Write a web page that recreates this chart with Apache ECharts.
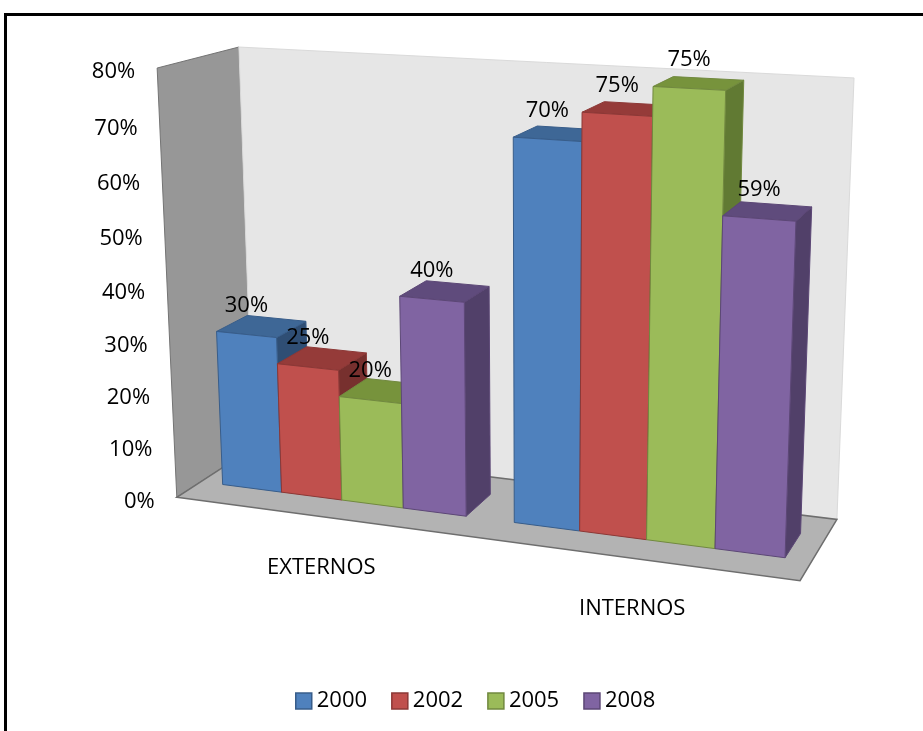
<!DOCTYPE html>
<html>
<head>
<meta charset="utf-8">
<script src="https://cdn.jsdelivr.net/npm/echarts/dist/echarts.min.js"></script>
<style>
html,body{margin:0;padding:0;background:#fff;}
#chart{width:923px;height:731px;}
</style>
</head>
<body>
<div id="chart"></div>
<script>
// ---------------- data ----------------
const categories = ['EXTERNOS', 'INTERNOS'];
const years = ['2000', '2002', '2005', '2008'];
const values2000 = [0.30, 0.70];
const values2002 = [0.25, 0.75];
const values2005 = [0.20, 0.80];
const values2008 = [0.40, 0.59];
const labels2000 = ['30%', '70%'];
const labels2002 = ['25%', '75%'];
const labels2005 = ['20%', '75%'];
const labels2008 = ['40%', '59%'];
const yTicks = [0, 0.1, 0.2, 0.3, 0.4, 0.5, 0.6, 0.7, 0.8];
const yTickLabels = ['0%', '10%', '20%', '30%', '40%', '50%', '60%', '70%', '80%'];

const seriesValues = [values2000, values2002, values2005, values2008];
const seriesLabels = [labels2000, labels2002, labels2005, labels2008];

// ---------------- styling ----------------
const FONT_FAMILY = '"Open Sans", "Noto Sans", sans-serif';
const FONT = '22px ' + FONT_FAMILY;
const palette = [
  { front: '#4F81BD', top: '#3E6796', side: '#2F4E74', stroke: '#385D8A' },
  { front: '#C0504D', top: '#953B39', side: '#77302E', stroke: '#8C3836' },
  { front: '#9BBB59', top: '#77933C', side: '#617A33', stroke: '#71893F' },
  { front: '#8064A2', top: '#5F4B7C', side: '#514069', stroke: '#5C4776' }
];
const GAP = 0.75;           // gap between groups, in bar widths
const Z_FRONT = 0.3, Z_BACK = 0.7;  // bar depth inside the box

// ---------------- camera (3D box -> screen) ----------------
const CAMERA_CAL = [
  [0, 0, 0, 177, 497], [1, 0, 0, 800, 581], [0, 1, 0, 157, 68],
  [0, 1, 1, 239, 47], [1, 1, 1, 854, 78], [1, 0, 1, 837, 519], [0, 0, 1, 253, 448]
];
function fitCamera(cal) {
  const S = 400, CX = 460, CY = 300, n = 11;
  const rows = [], rhs = [];
  cal.forEach(function (c) {
    const X = c[0], Y = c[1], Z = c[2], u = (c[3] - CX) / S, v = (c[4] - CY) / S;
    rows.push([X, Y, Z, 1, 0, 0, 0, 0, -u * X, -u * Y, -u * Z]); rhs.push(u);
    rows.push([0, 0, 0, 0, X, Y, Z, 1, -v * X, -v * Y, -v * Z]); rhs.push(v);
  });
  const M = [];
  for (let i = 0; i < n; i++) M.push(new Array(n + 1).fill(0));
  rows.forEach(function (r, k) {
    for (let i = 0; i < n; i++) {
      for (let j = 0; j < n; j++) M[i][j] += r[i] * r[j];
      M[i][n] += r[i] * rhs[k];
    }
  });
  for (let c = 0; c < n; c++) {
    let piv = c;
    for (let r = c + 1; r < n; r++) if (Math.abs(M[r][c]) > Math.abs(M[piv][c])) piv = r;
    const t = M[c]; M[c] = M[piv]; M[piv] = t;
    for (let r = 0; r < n; r++) {
      if (r === c) continue;
      const f = M[r][c] / M[c][c];
      for (let j = c; j <= n; j++) M[r][j] -= f * M[c][j];
    }
  }
  const p = M.map(function (row, i) { return row[n] / row[i]; });
  return function (X, Y, Z) {
    const w = p[8] * X + p[9] * Y + p[10] * Z + 1;
    return [
      (p[0] * X + p[1] * Y + p[2] * Z + p[3]) / w * S + CX,
      (p[4] * X + p[5] * Y + p[6] * Z + p[7]) / w * S + CY
    ];
  };
}
const project = fitCamera(CAMERA_CAL);

function toWorld(cs, pt) {
  return [(pt[0] - cs.x) / cs.width, (cs.y + cs.height - pt[1]) / cs.height];
}

// ---------------- render functions ----------------
function renderFrame(params, api) {
  const cs = params.coordSys;
  const P = project;
  const children = [];
  children.push({ type: 'polygon', shape: { points: [P(0,0,0), P(0,1,0), P(0,1,1), P(0,0,1)] },
    style: { fill: '#979797', stroke: '#747474', lineWidth: 1 } });
  children.push({ type: 'polygon', shape: { points: [P(0,0,1), P(0,1,1), P(1,1,1), P(1,0,1)] },
    style: { fill: '#E6E6E6', stroke: '#DADADA', lineWidth: 1 } });
  children.push({ type: 'polygon', shape: { points: [P(0,0,0), P(1,0,0), P(1,0,1), P(0,0,1)] },
    style: { fill: '#B3B3B3', stroke: '#6E6E6E', lineWidth: 1.5 } });
  yTicks.forEach(function (t, i) {
    const w = toWorld(cs, api.coord([0, t]));
    const q = P(0, w[1], 0);
    children.push({ type: 'text', z2: 100, style: {
      text: yTickLabels[i], x: q[0] - 22, y: q[1] + 4, font: FONT, fill: '#000',
      align: 'right', verticalAlign: 'middle', textAlign: 'right', textVerticalAlign: 'middle' } });
  });
  categories.forEach(function (c, i) {
    const w = toWorld(cs, api.coord([i, 0]));
    const q = P(w[0], 0, 0);
    children.push({ type: 'text', z2: 100, style: {
      text: c, x: q[0] + 1, y: q[1] + 51, font: FONT, fill: '#000',
      align: 'center', verticalAlign: 'middle', textAlign: 'center', textVerticalAlign: 'middle' } });
  });
  return { type: 'group', children: children };
}

function makeBarRenderer(si) {
  return function (params, api) {
    const cs = params.coordSys;
    const P = project;
    const cat = api.value(0), val = api.value(1);
    const base = api.coord([cat, 0]);
    const topPt = api.coord([cat, val]);
    const band = api.size([1, 0])[0];
    const bw = band / (years.length + GAP);
    const left = base[0] - band / 2 + bw * GAP / 2 + si * bw;
    const X0 = (left - cs.x) / cs.width, X1 = (left + bw - cs.x) / cs.width;
    const Y0 = toWorld(cs, base)[1], Y1 = toWorld(cs, topPt)[1];
    const col = palette[si];
    const front = [P(X0, Y0, Z_FRONT), P(X1, Y0, Z_FRONT), P(X1, Y1, Z_FRONT), P(X0, Y1, Z_FRONT)];
    const top = [P(X0, Y1, Z_FRONT), P(X1, Y1, Z_FRONT), P(X1, Y1, Z_BACK), P(X0, Y1, Z_BACK)];
    const side = [P(X1, Y0, Z_FRONT), P(X1, Y0, Z_BACK), P(X1, Y1, Z_BACK), P(X1, Y1, Z_FRONT)];
    const lp = P((X0 + X1) / 2, Y1, Z_FRONT);
    return { type: 'group', children: [
      { type: 'polygon', shape: { points: side }, style: { fill: col.side, stroke: col.stroke, lineWidth: 1 } },
      { type: 'polygon', shape: { points: top }, style: { fill: col.top, stroke: col.stroke, lineWidth: 1 } },
      { type: 'polygon', shape: { points: front }, style: { fill: col.front, stroke: col.stroke, lineWidth: 1 } },
      { type: 'text', z2: 100, style: {
        text: seriesLabels[si][params.dataIndex], x: lp[0], y: lp[1] - 29, font: FONT, fill: '#000',
        align: 'center', verticalAlign: 'middle', textAlign: 'center', textVerticalAlign: 'middle' } }
    ] };
  };
}

// ---------------- chart ----------------
const chart = echarts.init(document.getElementById('chart'), null, { renderer: 'canvas' });
const series = [{
  type: 'custom', name: '__frame', silent: true, clip: false,
  renderItem: renderFrame, data: [[0, 0]], z: 1
}];
years.forEach(function (y, si) {
  series.push({
    type: 'custom', name: y, clip: false, z: 2,
    itemStyle: { color: palette[si].front, borderColor: palette[si].stroke, borderWidth: 1.5 },
    renderItem: makeBarRenderer(si),
    data: categories.map(function (c, i) { return [i, seriesValues[si][i]]; })
  });
});

chart.setOption({
  animation: false,
  backgroundColor: '#fff',
  grid: { left: 177, right: 123, top: 68, bottom: 234 },
  xAxis: { type: 'category', data: categories, show: false },
  yAxis: { type: 'value', min: 0, max: 0.8, interval: 0.1, show: false },
  legend: {
    data: years, left: 290, top: 685, icon: 'rect',
    itemWidth: 16, itemHeight: 16, itemGap: 24, itemStyle: { borderWidth: 1.5 },
    textStyle: { fontSize: 22, fontFamily: FONT_FAMILY, color: '#000' }
  },
  graphic: [{
    type: 'rect', silent: true, z: 100,
    shape: { x: 5.5, y: 14.5, width: 1000, height: 1000 },
    style: { fill: 'none', stroke: '#000', lineWidth: 3 }
  }],
  series: series
});
</script>
</body>
</html>
